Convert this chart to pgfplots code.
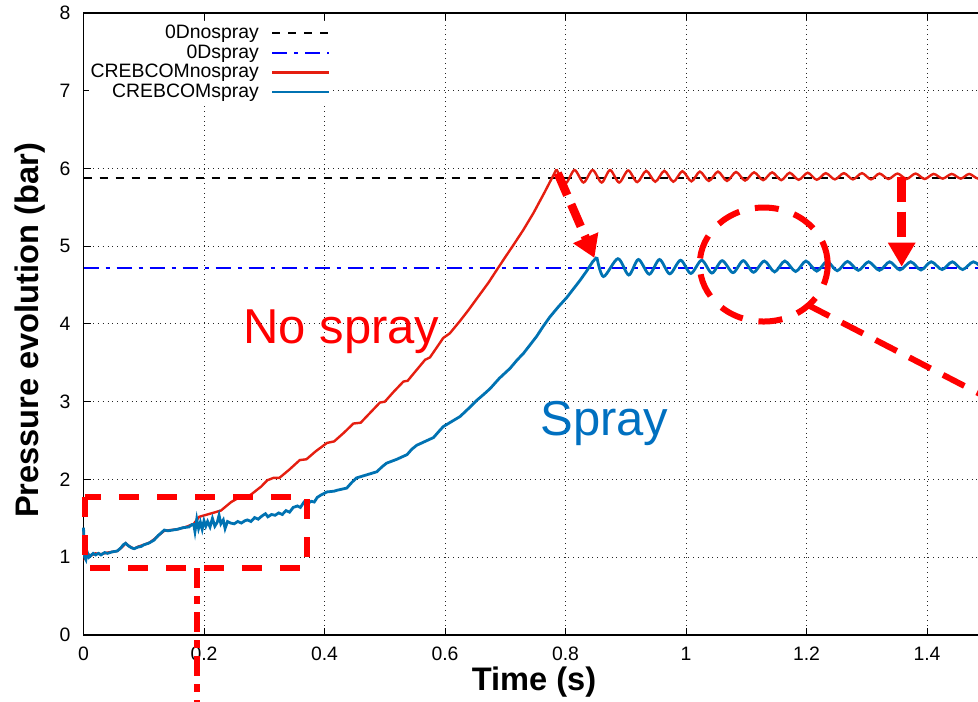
\documentclass[border=0pt]{standalone}
\usepackage{fontspec}
\setmainfont{Liberation Sans}
\usepackage{pgfplots}
\pgfplotsset{compat=1.18}
\usetikzlibrary{arrows.meta}
\definecolor{cred}{HTML}{E51E10}
\definecolor{cblue}{HTML}{0072B2}
\definecolor{tblue}{HTML}{0070C0}
\definecolor{dblue}{HTML}{0000FF}
\begin{document}
\begin{tikzpicture}
\begin{axis}[
  at={(0,0)}, anchor=south west,
  scale only axis, width=451.875pt, height=311pt,
  xmin=0, xmax=1.5, ymin=0, ymax=8,
  clip=false,
  xtick={0,0.2,0.4,0.6,0.8,1,1.2,1.4},
  ytick={0,1,2,3,4,5,6,7,8},
  grid=major, major grid style={dotted, black!85, line width=0.5pt},
  tick align=inside, major tick length=3.5pt, tick style={black, line width=0.5pt},
  axis line style={line width=0.6pt},
  tick label style={font=\fontsize{9.7}{11}\selectfont},
  /pgf/number format/assume math mode=true,
  xticklabel style={yshift=-2.5pt},
  yticklabel style={xshift=-3pt},
  xlabel={Time (s)}, ylabel={Pressure evolution (bar)},
  label style={font=\fontsize{16.3}{19}\selectfont\bfseries},
  xlabel style={at={(axis description cs:0.4985,-0.0756)}, anchor=center},
  ylabel style={at={(axis description cs:-0.0592,0.4896)}, anchor=center},
  legend style={at={(axis description cs:0.2739,0.9835)}, anchor=north east,
    draw=none, fill=white, font=\fontsize{9.7}{9.75}\selectfont,
    row sep=0pt, inner sep=0pt, column sep=5pt,
    nodes={inner sep=1pt, text height=6.5pt, text depth=1.25pt}},
  legend cell align=right,
  legend plot pos=right,
  legend image code/.code={\draw[#1] (0pt,0pt) -- (28.5pt,0pt);},
]
\addplot[black, line width=1pt, dash pattern=on 4pt off 4pt] coordinates {(0,5.88) (1.5,5.88)};
\addlegendentry{0Dnospray}
\addplot[dblue, line width=1pt, dash pattern=on 7.5pt off 3.5pt on 2pt off 3.5pt] coordinates {(0,4.72) (1.5,4.72)};
\addlegendentry{0Dspray}
% CREBCOM no spray, rising part
\addplot[cred, line width=1.2pt] coordinates {
(0,1.35) (0.002,1.00) (0.006,1.05) (0.012,1.02) (0.020,1.05) (0.029,1.04) (0.040,1.06)
(0.056,1.08) (0.064,1.13) (0.070,1.18) (0.076,1.14) (0.084,1.11) (0.092,1.14) (0.100,1.16)
(0.110,1.19) (0.117,1.23) (0.126,1.29) (0.134,1.34) (0.145,1.35) (0.156,1.36) (0.170,1.39)
(0.183,1.43) (0.192,1.52) (0.210,1.56) (0.228,1.60) (0.245,1.71) (0.261,1.78) (0.277,1.80)
(0.295,1.91) (0.305,1.99) (0.315,2.02) (0.325,2.02) (0.342,2.13) (0.359,2.25) (0.370,2.26)
(0.385,2.36) (0.404,2.47) (0.416,2.49) (0.432,2.60) (0.448,2.72) (0.460,2.73) (0.476,2.86)
(0.492,2.99) (0.500,3.00) (0.515,3.13) (0.531,3.26) (0.538,3.27) (0.553,3.41) (0.567,3.54)
(0.575,3.57) (0.590,3.74) (0.597,3.82) (0.608,3.88) (0.625,4.04) (0.639,4.18) (0.655,4.35)
(0.672,4.53) (0.688,4.72) (0.700,4.86) (0.713,5.01) (0.730,5.21) (0.747,5.43) (0.765,5.69)
(0.785,5.99)};
\addlegendentry{CREBCOMnospray}
% CREBCOM spray, rising part
\addplot[cblue, line width=1.4pt] coordinates {
(0,1.38) (0.002,1.00) (0.004,0.97) (0.006,1.07) (0.009,1.00) (0.012,1.02) (0.016,1.05)
(0.020,1.03) (0.025,1.05) (0.029,1.03) (0.035,1.06) (0.040,1.05) (0.048,1.07) (0.056,1.08)
(0.062,1.12) (0.066,1.16) (0.070,1.18) (0.074,1.15) (0.080,1.12) (0.084,1.11) (0.090,1.13)
(0.096,1.14) (0.100,1.16) (0.108,1.18) (0.117,1.22) (0.124,1.28) (0.130,1.32) (0.134,1.35)
(0.140,1.34) (0.148,1.35) (0.156,1.36) (0.165,1.38) (0.175,1.39) (0.180,1.42)
(0.183,1.42) (0.185,1.33) (0.188,1.49) (0.191,1.37) (0.194,1.45) (0.197,1.36) (0.200,1.47)
(0.203,1.40) (0.206,1.46) (0.210,1.39) (0.214,1.50) (0.218,1.40) (0.222,1.45) (0.225,1.54)
(0.228,1.43) (0.232,1.48) (0.235,1.37) (0.239,1.46) (0.244,1.44) (0.250,1.43) (0.256,1.46)
(0.262,1.44) (0.268,1.47) (0.272,1.48) (0.278,1.46) (0.284,1.51) (0.290,1.49) (0.296,1.53)
(0.302,1.56) (0.306,1.52) (0.312,1.55) (0.318,1.54) (0.324,1.57) (0.330,1.55) (0.336,1.60)
(0.342,1.58) (0.348,1.64) (0.355,1.66) (0.360,1.64) (0.366,1.71) (0.372,1.69) (0.378,1.72)
(0.383,1.71) (0.388,1.77) (0.394,1.80) (0.399,1.82) (0.404,1.84) (0.416,1.85) (0.420,1.86)
(0.437,1.89) (0.445,1.96) (0.453,2.02) (0.470,2.06) (0.487,2.10) (0.495,2.16) (0.503,2.21)
(0.520,2.26) (0.537,2.32) (0.545,2.39) (0.553,2.44) (0.567,2.49) (0.581,2.54) (0.590,2.62)
(0.597,2.68) (0.612,2.75) (0.625,2.81) (0.640,2.92) (0.653,3.02) (0.665,3.10) (0.675,3.17)
(0.690,3.30) (0.708,3.43) (0.720,3.54) (0.730,3.62) (0.741,3.73) (0.752,3.84) (0.763,3.97)
(0.774,4.09) (0.788,4.22) (0.802,4.34) (0.813,4.45) (0.824,4.56) (0.835,4.68) (0.845,4.80)
(0.852,4.86)};
\addlegendentry{CREBCOMspray}
% oscillating parts
\addplot[cred, line width=1.2pt, smooth, forget plot] coordinates {
(0.785,5.99) (0.800,5.81) (0.815,5.98) (0.830,5.82) (0.845,5.98) (0.860,5.82)
(0.874,5.98) (0.889,5.82) (0.904,5.975) (0.919,5.825) (0.934,5.97) (0.949,5.83)
(0.964,5.97) (0.979,5.83) (0.994,5.965) (1.009,5.835) (1.023,5.96) (1.038,5.84)
(1.053,5.96) (1.068,5.84) (1.083,5.955) (1.098,5.845) (1.113,5.95) (1.128,5.85)
(1.143,5.95) (1.158,5.85) (1.172,5.945) (1.187,5.855) (1.202,5.945) (1.217,5.855)
(1.232,5.94) (1.247,5.86) (1.262,5.94) (1.277,5.86) (1.292,5.94) (1.307,5.86)
(1.321,5.935) (1.336,5.865) (1.351,5.935) (1.366,5.865) (1.381,5.935) (1.396,5.865)
(1.411,5.93) (1.426,5.87) (1.441,5.93) (1.456,5.87) (1.470,5.93) (1.485,5.87) (1.500,5.93)};
\addplot[cblue, line width=1.4pt, smooth, forget plot] coordinates {
(0.852,4.86) (0.863,4.61) (0.887,4.84) (0.905,4.63) (0.921,4.83) (0.939,4.64)
(0.956,4.83) (0.973,4.645) (0.991,4.82) (1.008,4.65) (1.026,4.82) (1.043,4.655)
(1.060,4.815) (1.078,4.66) (1.095,4.815) (1.112,4.665) (1.130,4.81) (1.147,4.67)
(1.164,4.81) (1.182,4.675) (1.199,4.81) (1.217,4.68) (1.234,4.805) (1.251,4.685)
(1.268,4.805) (1.286,4.69) (1.303,4.80) (1.321,4.69) (1.338,4.80) (1.355,4.695)
(1.373,4.80) (1.390,4.695) (1.407,4.80) (1.425,4.70) (1.442,4.80) (1.459,4.70)
(1.477,4.80) (1.494,4.70)};
% annotations
\node[anchor=base west, text=red, font=\fontsize{24.5}{28}\selectfont, inner sep=0pt] at (axis cs:0.2647,3.755) {No spray};
\node[anchor=base west, text=tblue, font=\fontsize{24.5}{28}\selectfont, inner sep=0pt] at (axis cs:0.7577,2.572) {Spray};
\draw[red, line width=3pt, dash pattern=on 10pt off 9pt] (axis cs:0.0025,1.77) rectangle (axis cs:0.371,0.858);
\draw[red, line width=3pt, dash pattern=on 10pt off 4pt on 4pt off 4pt] (axis cs:0.188,0.858) -- (axis cs:0.188,-1.2);
\draw[red, line width=3pt, dash pattern=on 12pt off 8pt] (axis cs:1.129,4.765) ellipse [x radius=32pt, y radius=28.5pt];
\draw[red, line width=3pt, dash pattern=on 12pt off 7pt] (axis cs:1.2025,4.244) -- (axis cs:1.5,3.051);
\draw[red, line width=4.25pt, dash pattern=on 12pt off 5pt, -{Triangle[width=13pt,length=11pt]}] (axis cs:0.787,5.94) -- (axis cs:0.848,4.85);
\draw[red, line width=4.25pt, dash pattern=on 12.5pt off 5pt, -{Triangle[width=13pt,length=12pt]}] (axis cs:1.358,5.895) -- (axis cs:1.358,4.737);
\end{axis}
\pgfresetboundingbox
\useasboundingbox (-41.75pt,-33pt) rectangle (447.25pt,317.5pt);
\end{tikzpicture}
\end{document}
